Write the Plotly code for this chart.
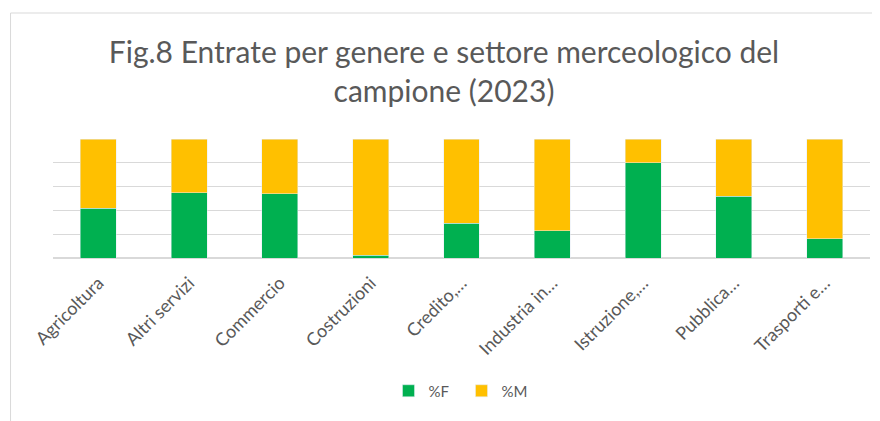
import plotly.graph_objects as go

categories = ["Agricoltura", "Altri servizi", "Commercio", "Costruzioni", "Credito,…",
              "Industria in…", "Istruzione,…", "Pubblica…", "Trasporti e…"]
pct_f = [42, 55, 54, 2.5, 29, 23, 80, 52, 16]
pct_m = [100 - v for v in pct_f]

# page body has an 8px margin, so figure coords = window coords - 8
W, H = 872, 413
L, R, T, B = 44.5, 9.5, 131, 163

fig = go.Figure()
fig.add_trace(go.Bar(x=categories, y=pct_f, name="%F", marker_color="#00B050"))
fig.add_trace(go.Bar(x=categories, y=pct_m, name="%M", marker_color="#FFC000"))

pw = W - L - R
ph = H - T - B
def px_x(x):
    return (x - L) / pw
def px_y(y):
    return (H - B - y) / ph

fig.update_layout(
    width=W, height=H,
    barmode="stack", bargap=0.604,
    margin=dict(l=L, r=R, t=T, b=B),
    paper_bgcolor="white", plot_bgcolor="white",
    title=dict(text="Fig.8 Entrate per genere e settore merceologico del<br>campione (2023)",
               x=0.5, xanchor="center", y=1 - 54.5 / H, yanchor="middle",
               font=dict(family="Lato", size=30, color="#595959")),
    font=dict(family="Lato", color="#595959"),
    showlegend=True,
    legend=dict(orientation="h", x=0.5, xanchor="center", y=px_y(383), yanchor="middle",
                font=dict(size=15, color="#595959"), traceorder="normal",
                entrywidth=28, entrywidthmode="pixels"),
    xaxis=dict(tickangle=-45, tickfont=dict(size=18, color="#595959"), showgrid=False,
               showline=False, ticks="", ticklabelstandoff=10),
    yaxis=dict(range=[0, 100], dtick=20, showticklabels=False, gridcolor="#D9D9D9",
               gridwidth=1, zeroline=True, zerolinecolor="#D9D9D9", showline=False),
    shapes=[
        dict(type="line", xref="paper", yref="paper", x0=px_x(2), x1=px_x(872), y0=px_y(5), y1=px_y(5),
             line=dict(color="#D9D9D9", width=1)),
        dict(type="line", xref="paper", yref="paper", x0=px_x(2), x1=px_x(2), y0=px_y(5), y1=px_y(413),
             line=dict(color="#D9D9D9", width=1)),
    ],
)

fig.write_html("out.html")
